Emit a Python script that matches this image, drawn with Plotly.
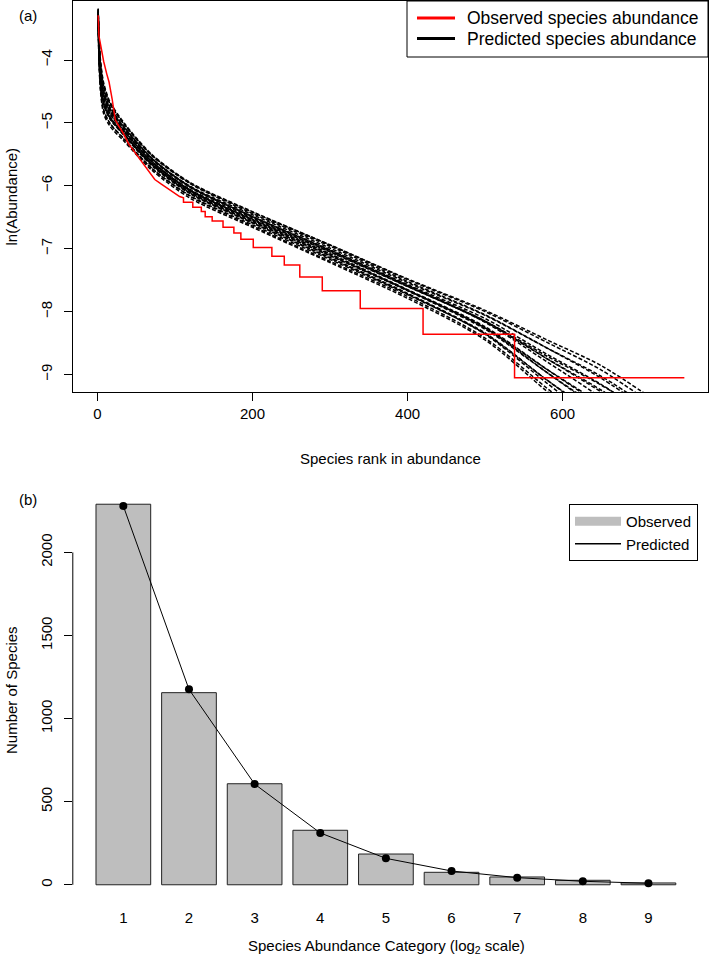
import plotly.graph_objects as go

W, H = 709, 961
FONT = "Liberation Sans, Arial, Helvetica, sans-serif"

# ---------------- Panel (a) data ----------------
# Observed species abundance: smooth upper part (rank, ln abundance)
obs_curve_rank = [1, 2, 4, 8, 12, 15, 19, 23, 28, 34, 40, 46, 51, 57, 63, 68, 74, 82, 90, 98, 106, 111]
obs_curve_ln = [-3.29, -3.62, -3.75, -4.02, -4.22, -4.35, -4.62, -4.95, -5.06, -5.18, -5.33, -5.43,
                -5.53, -5.62, -5.72, -5.80, -5.90, -5.97, -6.04, -6.10, -6.17, -6.19]
# Observed step part: rank where each new level starts, and the level
obs_step_rank = [111, 123, 134, 139, 148, 162, 176, 185, 201, 225, 241, 261, 290, 339, 420, 538]
obs_step_ln = [-6.26, -6.34, -6.41, -6.49, -6.56, -6.66, -6.75, -6.85, -6.98, -7.12, -7.26, -7.45,
               -7.67, -7.95, -8.36, -9.05]
obs_last_rank = 757

# Predicted species abundance (simulated curves), values at rank knots
pred_rank = [1, 2, 4, 8, 16, 35, 70, 120, 200, 300, 400, 500, 580, 650, 720]
pred_A = [-3.19, -3.62, -4.04, -4.39, -4.69, -5.03, -5.52, -5.97, -6.44, -6.96, -7.52, -8.05, -8.58, -9.06, -9.65]
pred_B = [-3.21, -3.66, -4.07, -4.41, -4.69, -5.03, -5.51, -5.96, -6.42, -6.94, -7.48, -7.98, -8.45, -8.86, -9.42]
pred_C = [-3.23, -3.70, -4.14, -4.49, -4.77, -5.09, -5.57, -6.02, -6.49, -7.02, -7.58, -8.15, -8.75, -9.28, -9.88]
pred_D = [-3.25, -3.73, -4.16, -4.50, -4.77, -5.08, -5.56, -6.01, -6.46, -6.99, -7.54, -8.06, -8.58, -9.03, -9.59]
pred_E = [-3.27, -3.78, -4.24, -4.59, -4.85, -5.15, -5.62, -6.08, -6.54, -7.08, -7.65, -8.24, -8.92, -9.50, -10.12]
pred_F = [-3.29, -3.81, -4.26, -4.60, -4.85, -5.14, -5.61, -6.06, -6.51, -7.05, -7.60, -8.16, -8.75, -9.25, -9.83]
pred_G = [-3.31, -3.86, -4.34, -4.69, -4.93, -5.21, -5.68, -6.13, -6.59, -7.14, -7.71, -8.34, -9.09, -9.72, -10.35]
pred_H = [-3.33, -3.89, -4.36, -4.70, -4.93, -5.20, -5.66, -6.11, -6.57, -7.11, -7.66, -8.26, -8.92, -9.47, -10.06]
pred_I = [-3.35, -3.94, -4.43, -4.79, -5.00, -5.27, -5.72, -6.17, -6.64, -7.20, -7.76, -8.42, -9.22, -9.89, -10.52]
pred_J = [-3.37, -3.97, -4.46, -4.80, -5.01, -5.26, -5.72, -6.16, -6.62, -7.17, -7.73, -8.35, -9.09, -9.69, -10.29]
pred_K = [-3.20, -3.65, -4.08, -4.44, -4.74, -5.07, -5.56, -6.02, -6.49, -7.03, -7.59, -8.17, -8.80, -9.37, -10.00]
pred_L = [-3.26, -3.76, -4.19, -4.54, -4.80, -5.11, -5.58, -6.03, -6.49, -7.02, -7.57, -8.11, -8.68, -9.16, -9.74]
pred_M = [-3.30, -3.84, -4.30, -4.66, -4.90, -5.19, -5.65, -6.10, -6.56, -7.11, -7.67, -8.28, -8.97, -9.56, -10.17]
pred_N = [-3.28, -3.81, -4.28, -4.64, -4.90, -5.19, -5.66, -6.12, -6.59, -7.15, -7.72, -8.36, -9.14, -9.81, -10.46]
pred_O = [-3.34, -3.90, -4.36, -4.69, -4.91, -5.18, -5.64, -6.08, -6.53, -7.05, -7.60, -8.15, -8.71, -9.17, -9.71]
pred_P = [-3.24, -3.72, -4.17, -4.53, -4.81, -5.13, -5.61, -6.07, -6.54, -7.09, -7.66, -8.26, -8.97, -9.59, -10.23]
pred_Q = [-3.38, -4.00, -4.50, -4.85, -5.05, -5.30, -5.75, -6.20, -6.66, -7.22, -7.79, -8.45, -9.27, -9.95, -10.58]
pred_R = [-3.18, -3.60, -4.01, -4.36, -4.66, -5.01, -5.50, -5.95, -6.41, -6.94, -7.49, -8.00, -8.49, -8.93, -9.51]
pred_curves = [pred_A, pred_B, pred_C, pred_D, pred_E, pred_F, pred_G, pred_H, pred_I,
               pred_J, pred_K, pred_L, pred_M, pred_N, pred_O, pred_P, pred_Q, pred_R]

a_xticks = [0, 200, 400, 600]
a_yticks = [-4, -5, -6, -7, -8, -9]
a_legend_labels = ["Observed species abundance", "Predicted species abundance"]
a_legend_colors = ["#FF0000", "black"]

# ---------------- Panel (b) data ----------------
categories = ["1", "2", "3", "4", "5", "6", "7", "8", "9"]
observed_counts = [2290, 1156, 608, 328, 185, 75, 47, 27, 11]
predicted_counts = [2279, 1176, 606, 312, 159, 83, 43, 21, 9]
b_yticks = [0, 500, 1000, 1500, 2000]

# ---------------- build observed red line ----------------
obs_x = list(obs_curve_rank)
obs_y = list(obs_curve_ln)
prev = obs_curve_ln[-1]
for r, lv in zip(obs_step_rank, obs_step_ln):
    obs_x += [r, r]
    obs_y += [prev, lv]
    prev = lv
obs_x.append(obs_last_rank)
obs_y.append(prev)

fig = go.Figure()

for cv in pred_curves:
    fig.add_trace(go.Scatter(x=pred_rank, y=cv, mode="lines", xaxis="x", yaxis="y",
                             line=dict(color="black", width=1.5, dash="4px,2px", shape="spline", smoothing=0.8),
                             showlegend=False, hoverinfo="skip"))

fig.add_trace(go.Scatter(x=obs_x, y=obs_y, mode="lines", xaxis="x", yaxis="y",
                         line=dict(color="#FF0000", width=1.5), showlegend=False))

# panel (b)
fig.add_trace(go.Bar(x=categories, y=observed_counts, xaxis="x2", yaxis="y2",
                     marker=dict(color="#BEBEBE", line=dict(color="#222222", width=1)),
                     showlegend=False, hoverinfo="skip"))
fig.add_trace(go.Scatter(x=categories, y=predicted_counts, mode="lines+markers", xaxis="x2", yaxis="y2",
                         line=dict(color="black", width=1), marker=dict(color="black", size=8),
                         showlegend=False))
fig.add_trace(go.Scatter(x=[None], y=[None], mode="lines", xaxis="x2", yaxis="y2",
                         line=dict(color="#BEBEBE", width=9), name="Observed", legend="legend2"))
fig.add_trace(go.Scatter(x=[None], y=[None], mode="lines", xaxis="x2", yaxis="y2",
                         line=dict(color="black", width=1.5), name="Predicted", legend="legend2"))

def px_x(p):
    return p / W

def px_y(p):
    return 1 - p / H

tickfont = dict(family=FONT, size=15, color="black")

def ann(text, x, y, angle=0, size=15, xanchor="center"):
    return dict(text=text, x=px_x(x), y=px_y(y), xref="paper", yref="paper", showarrow=False,
                xanchor=xanchor, yanchor="middle", textangle=angle,
                font=dict(family=FONT, size=size, color="black"))

# panel (a) legend drawn as box + sample lines + text
shapes = [
    dict(type="line", xref="paper", yref="y2", x0=px_x(72.8), x1=px_x(72.8),
         y0=min(b_yticks), y1=max(b_yticks), line=dict(color="black", width=1)),
    dict(type="rect", xref="paper", yref="paper", x0=px_x(407), x1=px_x(708), y0=px_y(57), y1=px_y(1),
         line=dict(color="black", width=1), fillcolor="white"),
]
annotations = [
    ann("(a)", 28, 16),
    ann("(b)", 28, 500),
    ann("ln(Abundance)", 11, 196.5, -90),
    ann("Species rank in abundance", 390.5, 459),
    ann("Number of Species", 11, 690, -90),
    ann("Species Abundance Category (log<sub>2</sub> scale)", 386, 946),
]
for i, (lab, col) in enumerate(zip(a_legend_labels, a_legend_colors)):
    yy = 18 + 20.5 * i
    shapes.append(dict(type="line", xref="paper", yref="paper", x0=px_x(417), x1=px_x(455),
                       y0=px_y(yy), y1=px_y(yy), line=dict(color=col, width=3)))
    annotations.append(ann(lab, 465, yy, size=17.5, xanchor="left"))

fig.update_layout(
    width=W, height=H, autosize=False,
    margin=dict(l=0, r=0, t=0, b=0, autoexpand=False),
    paper_bgcolor="white", plot_bgcolor="white",
    font=dict(family=FONT, size=15, color="black"),
    bargap=1 - 1 / 1.2,
    xaxis=dict(domain=[px_x(73), px_x(708)], range=[-31.5, 787.5], anchor="y", automargin=False,
               tickvals=a_xticks, ticks="outside", ticklen=8, tickcolor="black",
               showline=True, mirror=True, linecolor="black", linewidth=1,
               showgrid=False, zeroline=False, tickfont=tickfont, ticklabelstandoff=0),
    yaxis=dict(domain=[px_y(392), px_y(1)], range=[-9.278, -3.062], anchor="x", automargin=False,
               tickvals=a_yticks, ticks="outside", ticklen=8, tickcolor="black",
               showline=True, mirror=True, linecolor="black", linewidth=1,
               showgrid=False, zeroline=False, tickfont=tickfont, tickangle=-90,
               ticklabelstandoff=6),
    xaxis2=dict(domain=[px_x(72.8), px_x(699)], range=[-0.77, 8.77], anchor="y2", automargin=False,
                type="category", ticks="", showline=False, showgrid=False, zeroline=False,
                tickfont=tickfont, ticklabelstandoff=7),
    yaxis2=dict(domain=[px_y(900), px_y(489)], range=[-91.6, 2381.6], anchor="x2", automargin=False,
                tickvals=b_yticks, ticks="outside", ticklen=8, tickcolor="black",
                showline=False, showgrid=False, zeroline=False, tickfont=tickfont,
                tickangle=-90, ticklabelstandoff=6),
    legend2=dict(x=px_x(698), xanchor="right", y=px_y(504), yanchor="top",
                 bordercolor="black", borderwidth=1, bgcolor="white",
                 font=dict(family=FONT, size=15, color="black"), itemwidth=46,
                 tracegroupgap=0),
    shapes=shapes,
    annotations=annotations,
)

fig.write_html("out.html", config={"displayModeBar": False},
               post_script="document.body.style.margin='0px';document.body.style.padding='0px';")
